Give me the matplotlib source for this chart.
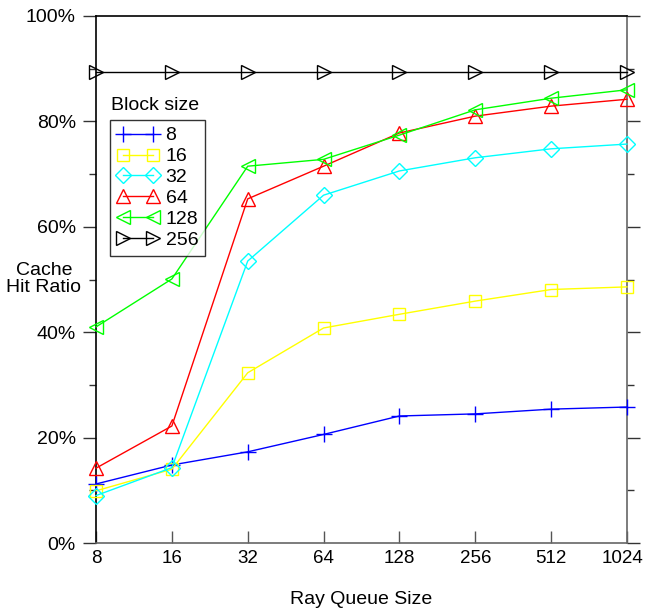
import matplotlib
matplotlib.use("Agg")
import matplotlib.pyplot as plt
from matplotlib.ticker import MultipleLocator, FuncFormatter
from matplotlib.transforms import ScaledTranslation

plt.rcParams['font.family'] = ['Liberation Sans', 'DejaVu Sans']

# ray queue sizes (x axis, log2 spaced)
queue_sizes = [8, 16, 32, 64, 128, 256, 512, 1024]

# cache hit ratio in %, one list per block size
hit_8 = [11.2, 14.8, 17.3, 20.6, 24.1, 24.5, 25.4, 25.8]
hit_16 = [9.9, 14.0, 32.3, 40.8, 43.4, 45.9, 48.1, 48.6]
hit_32 = [9.0, 14.3, 53.5, 66.0, 70.6, 73.1, 74.8, 75.7]
hit_64 = [14.2, 22.2, 65.3, 71.5, 77.8, 81.0, 82.9, 84.2]
hit_128 = [41.0, 50.1, 71.5, 72.8, 77.4, 82.2, 84.4, 86.0]
hit_256 = [89.4, 89.4, 89.4, 89.4, 89.4, 89.4, 89.4, 89.4]

block_labels = ["8", "16", "32", "64", "128", "256"]
series = [hit_8, hit_16, hit_32, hit_64, hit_128, hit_256]
colors = ["#0000ff", "#ffff00", "#00ffff", "#ff0000", "#00ff00", "#000000"]
markers = ["+", "s", "D", "^", "<", ">"]
msizes = [12, 9, 8, 10, 10, 10]

FS = 14

fig = plt.figure(figsize=(6.45, 6.10), dpi=100)
ax = fig.add_axes([96 / 645, 67 / 610, 531 / 645, 527 / 610])

xpos = list(range(len(queue_sizes)))
handles = []
for vals, col, mk, ms, lab in zip(series, colors, markers, msizes, block_labels):
    h, = ax.plot(xpos, vals, color=col, linewidth=1.0, marker=mk, markersize=ms,
                 markerfacecolor="none", markeredgecolor=col, markeredgewidth=1.0,
                 label=lab, clip_on=False, zorder=3)
    handles.append(h)

ax.set_xlim(0, len(queue_sizes) - 1)
ax.set_ylim(0, 100)
ax.set_xticks(xpos)
ax.set_xticklabels([str(q) for q in queue_sizes])
ax.yaxis.set_major_locator(MultipleLocator(20))
ax.yaxis.set_minor_locator(MultipleLocator(10))
ax.yaxis.set_major_formatter(FuncFormatter(lambda v, p: "%d%%" % v))

ax.tick_params(axis="x", direction="in", length=9, width=1, color="#555555",
               labelsize=13.5, pad=5)
ax.tick_params(axis="y", which="major", direction="out", length=9.5, width=1,
               color="#333333", labelsize=FS, right=True, pad=5)
ax.tick_params(axis="y", which="minor", direction="out", length=5, width=1,
               color="#333333", right=True)

# last label sits at the figure edge, nudge it in a bit like the original
last = ax.get_xticklabels()[-1]
last.set_transform(last.get_transform() + ScaledTranslation(-4 / 100, 0, fig.dpi_scale_trans))

ax.spines["left"].set_color("black")
ax.spines["top"].set_color("black")
ax.spines["bottom"].set_color("#666666")
ax.spines["right"].set_color("#666666")
for s in ax.spines.values():
    s.set_linewidth(1.2)

ax.set_xlabel("Ray Queue Size", fontsize=FS, labelpad=17)
fig.text(44 / 645, 1 - 279 / 610, "Cache\nHit Ratio", ha="center", va="center",
         fontsize=FS, linespacing=1.05)

leg = ax.legend(handles=handles, loc="upper left", bbox_to_anchor=(14 / 531, 423 / 527),
                numpoints=2, handlelength=2.15, handletextpad=0.36, fontsize=FS,
                frameon=True, fancybox=False, borderpad=0.35, labelspacing=0.17,
                borderaxespad=0)
leg.get_frame().set_edgecolor("black")
leg.get_frame().set_linewidth(1.0)
ax.text(15 / 531, 429 / 527, "Block size", transform=ax.transAxes, fontsize=FS,
        ha="left", va="bottom")

fig.savefig("out.png", dpi=100)
